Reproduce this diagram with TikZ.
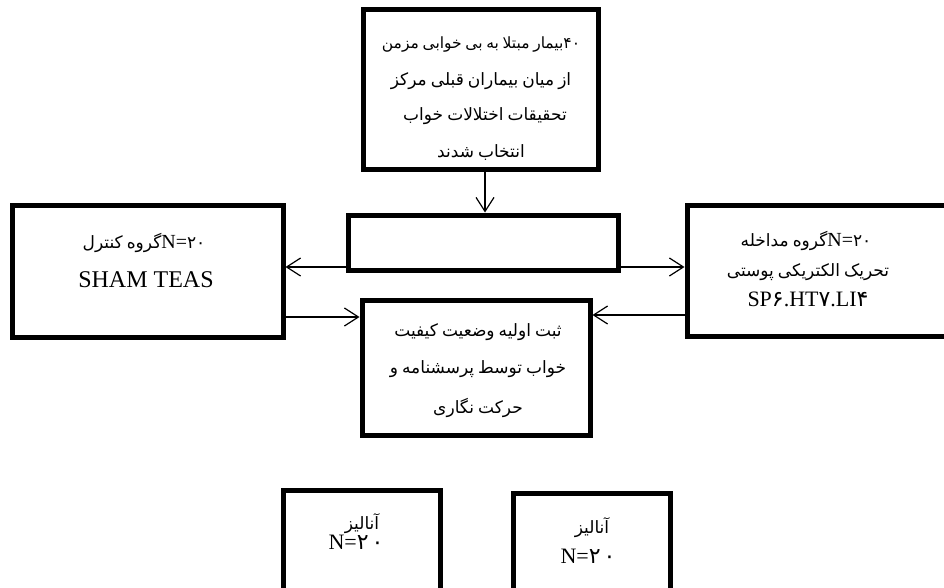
\documentclass[tikz,border=0pt]{standalone}
\usepackage{fontspec}
\setmainfont{Liberation Serif}
\newfontfamily\arfont[Script=Arabic,WordSpace=0.75]{DejaVu Sans}
\TeXXeTstate=1
\usetikzlibrary{arrows.meta,calc}
\newcommand{\fa}[1]{{\arfont\beginR #1\endR}}
\newcommand{\fd}[1]{{\arfont #1}}
\newcommand{\nn}{{\rmfamily\fontsize{20}{20}\selectfont N=}}
\begin{document}
\begin{tikzpicture}[x=1pt,y=-1pt,
  box/.style={draw, line width=5pt, inner sep=0pt},
  arr/.style={line width=1.2pt, -{Straight Barb[length=14pt,width=18pt,line width=1.2pt]}},
  fat/.style={font=\fontsize{17}{17}\selectfont, inner sep=0pt, anchor=base},
  lat/.style={font=\fontsize{22}{22}\selectfont, inner sep=0pt, anchor=base}]
\useasboundingbox (0,0) rectangle (944,588);
% boxes
\node[box, minimum width=235pt, minimum height=160pt] (n1) at (480.5,90) {};
\node[box, minimum width=270pt, minimum height=55pt] (n2) at (483,242.5) {};
\node[box, minimum width=271pt, minimum height=132pt] (n3) at (147.5,271) {};
\node[box, minimum width=273pt, minimum height=131pt] (n4) at (823.5,270.5) {};
\node[box, minimum width=228pt, minimum height=135pt] (n5) at (476,367.5) {};
\node[box, minimum width=157pt, minimum height=110pt] (n6) at (361.5,545) {};
\node[box, minimum width=157pt, minimum height=107pt] (n7) at (591.5,546.5) {};
% texts
\node[fat, font=\fontsize{15.5}{15.5}\selectfont] (t11) at (481,49) {\fa{\beginL ۴۰\endL بیمار مبتلا به بی خوابی مزمن}};
\node[fat] (t12) at (481,86) {\fa{از میان بیماران قبلی مرکز}};
\node[fat] (t13) at (485,121) {\fa{تحقیقات اختلالات خواب}};
\node[fat] (t14) at (481,158) {\fa{انتخاب شدند}};
\node[fat] (t31) at (144,248) {\fa{\beginL\nn\fd{۲۰}\endL گروه کنترل}};
\node[lat, font=\fontsize{24}{24}\selectfont] (t32) at (146,287) {SHAM TEAS};
\node[fat] (t41) at (806,246) {\fa{\beginL\nn\fd{۲۰}\endL گروه مداخله}};
\node[fat] (t42) at (808,276) {\fa{تحریک الکتریکی پوستی}};
\node[lat] (t43) at (808,306) {SP\fd{۶}.HT\fd{۷}.LI\fd{۴}};
\node[fat] (t51) at (478,336) {\fa{ثبت اولیه وضعیت کیفیت}};
\node[fat] (t52) at (478,373) {\fa{خواب توسط پرسشنامه و}};
\node[fat] (t53) at (478,413) {\fa{حرکت نگاری}};
\node[fat] (t61) at (362,529) {\fa{آنالیز}};
\node[lat] (t62) at (356,549) {N=\fd{۲\hspace{3pt}۰}};
\node[fat] (t71) at (592,533) {\fa{آنالیز}};
\node[lat] (t72) at (588,563) {N=\fd{۲\hspace{3pt}۰}};
% connectors
\coordinate (a0) at ($(n1.south)+(4.5,0)$);
\draw[arr] (a0) -- (a0 |- n2.north);
\coordinate (a) at ($(n2.west)+(0,24.5)$);
\draw[arr] (a) -- (a -| n3.east);
\coordinate (a2) at ($(n2.east)+(0,24.5)$);
\draw[arr] (a2) -- (a2 -| n4.west);
\coordinate (b) at ($(n5.west)+(0,-50.5)$);
\draw[arr] (b -| n3.east) -- (b);
\coordinate (c) at ($(n5.east)+(0,-52.5)$);
\draw[arr] (c -| n4.west) -- (c);
\end{tikzpicture}
\end{document}
